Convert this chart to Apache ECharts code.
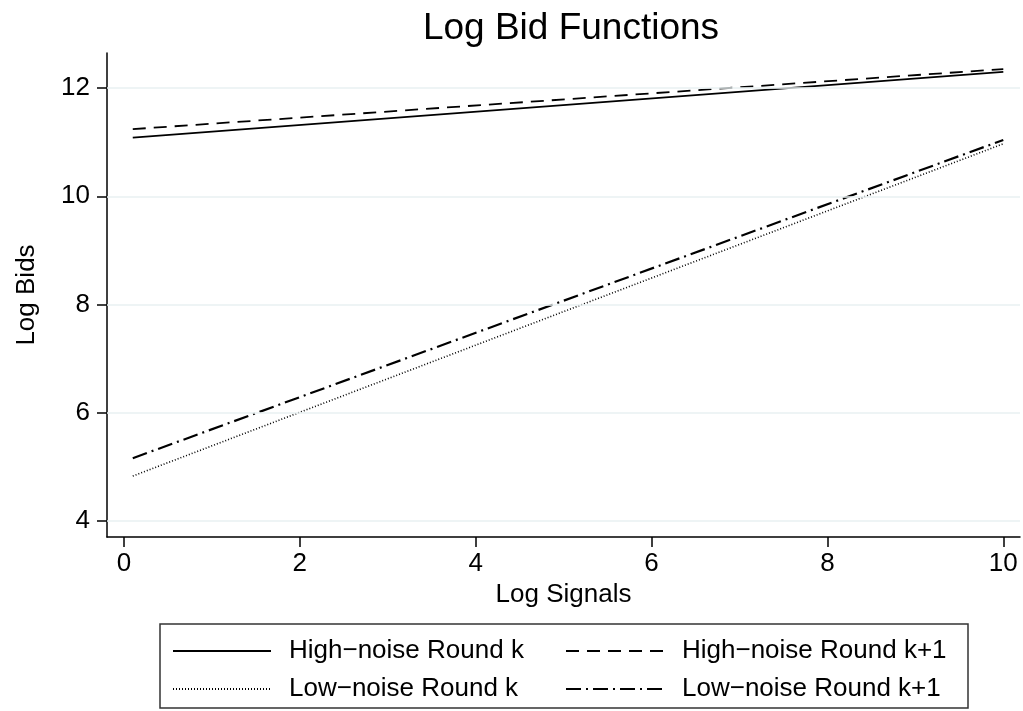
<!DOCTYPE html>
<html>
<head>
<meta charset="utf-8">
<script src="https://cdn.jsdelivr.net/npm/echarts@6/dist/echarts.min.js"></script>
<style>html,body{margin:0;padding:0;background:#fff}#c{width:1023px;height:711px}</style>
</head>
<body>
<div id="c"></div>
<script>
var xSignals = [0.1, 10];
var highK  = [11.085, 12.30];
var highK1 = [11.24, 12.35];
var lowK   = [4.83, 10.97];
var lowK1  = [5.16, 11.04];
var xTicks = [0, 2, 4, 6, 8, 10];
var yTicks = [4, 6, 8, 10, 12];
var names = ['High\u2212noise Round k', 'High\u2212noise Round k+1', 'Low\u2212noise Round k', 'Low\u2212noise Round k+1'];

function pairs(ys){ return xSignals.map(function(x,i){ return [x, ys[i]]; }); }
var FONT = '"Liberation Sans", Arial, Helvetica, sans-serif';

var chart = echarts.init(document.getElementById('c'), null, {renderer:'canvas'});
var legendCommon = {
  orient: 'vertical', itemWidth: 98, itemHeight: 26, itemGap: 12, padding: 0,
  itemStyle: {opacity: 0},
  textStyle: {fontFamily: FONT, fontSize: 26, color: '#000', lineHeight: 26, padding: [0,0,0,13]},
  selectedMode: false
};
chart.setOption({
  animation: false,
  backgroundColor: '#fff',
  title: {text: 'Log Bid Functions', left: 566, textAlign: 'center', top: 5,
    textStyle: {fontFamily: FONT, fontSize: 37, fontWeight: 'normal', color: '#000'}},
  grid: {left: 107, right: 3, top: 53, bottom: 174},
  xAxis: {
    type: 'value', min: -0.193, max: 10.19,
    name: 'Log Signals', nameLocation: 'middle', nameGap: 45,
    nameTextStyle: {fontFamily: FONT, fontSize: 26, color: '#000'},
    axisLine: {onZero: false, lineStyle: {color: '#000', width: 1.5}},
    axisTick: {show: true, length: 10, customValues: xTicks, lineStyle: {color: '#000', width: 1.5}},
    axisLabel: {customValues: xTicks, margin: 14, fontFamily: FONT, fontSize: 26, color: '#000'},
    splitLine: {show: false}
  },
  yAxis: {
    type: 'value', min: 3.704, max: 12.647,
    name: 'Log Bids', nameLocation: 'middle', nameGap: 67, nameRotate: 90,
    nameTextStyle: {fontFamily: FONT, fontSize: 26, color: '#000'},
    axisLine: {show: true, onZero: false, lineStyle: {color: '#000', width: 1.5}},
    axisTick: {show: true, length: 10, customValues: yTicks, lineStyle: {color: '#000', width: 1.5}},
    axisLabel: {customValues: yTicks, margin: 17, fontFamily: FONT, fontSize: 26, color: '#000'},
    splitLine: {show: false}
  },
  legend: [
    Object.assign({}, legendCommon, {left: 172, top: 638, data: [names[0], names[2]]}),
    Object.assign({}, legendCommon, {left: 565, top: 638, data: [names[1], names[3]]})
  ],
  graphic: [{type: 'rect', shape: {x: 160, y: 624, width: 808, height: 84},
    style: {fill: 'none', stroke: '#333', lineWidth: 1.5}, silent: true}],
  series: [
    {type: 'line', name: 'grid', data: [], z: 1, silent: true,
      markLine: {silent: true, symbol: ['none','none'], label: {show: false},
        lineStyle: {type: 'solid', color: '#e9f0f2', width: 1.5},
        data: yTicks.map(function(v){ return {yAxis: v}; })}},
    {type: 'line', name: names[0], data: pairs(highK), symbol: 'none', z: 3,
      lineStyle: {color: '#000', width: 1.8, type: 'solid'}, itemStyle: {color: '#000'}},
    {type: 'line', name: names[1], data: pairs(highK1), symbol: 'none', z: 3,
      lineStyle: {color: '#000', width: 1.8, type: [13, 8]}, itemStyle: {color: '#000'}},
    {type: 'line', name: names[2], data: pairs(lowK), symbol: 'none', z: 3,
      lineStyle: {color: '#000', width: 1.6, type: [1, 2]}, itemStyle: {color: '#000'}},
    {type: 'line', name: names[3], data: pairs(lowK1), symbol: 'none', z: 3,
      lineStyle: {color: '#000', width: 2.2, type: [15, 5, 2, 5]}, itemStyle: {color: '#000'}}
  ]
});
</script>
</body>
</html>
